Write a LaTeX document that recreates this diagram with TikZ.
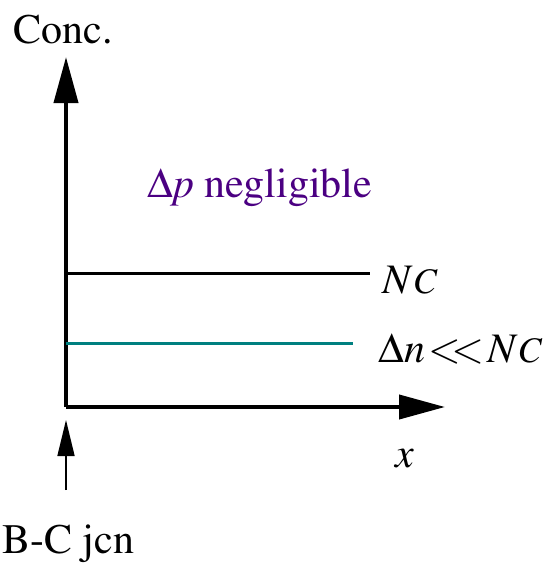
\documentclass[tikz,border=0pt]{standalone}
\usepackage[T1]{fontenc}
\usepackage{mathptmx}
\usepackage{xcolor}
\usetikzlibrary{arrows.meta, positioning, calc}
\definecolor{lbltext}{HTML}{4B0082}
\definecolor{exline}{HTML}{008080}

\begin{document}
\begin{tikzpicture}[
    x=0.5pt, y=-0.5pt,
    lbl/.style={inner sep=0pt, anchor=base west, font=\fontsize{21}{25}\selectfont},
    axis/.style={line width=2pt, -{Triangle[length=23pt, width=12pt]}},
    level/.style={line width=1.5pt},
    jarr/.style={line width=0.8pt, -{Triangle[length=18pt, width=8.5pt]}}
]
\useasboundingbox (0,0) rectangle (548,563);
\coordinate (O) at (66,407);
\coordinate (ytip) at (66,57);
\coordinate (xtip) at (445,407);
\coordinate (ncend) at (370,273);
\coordinate (dnend) at (353,343);
\coordinate (jtail) at (66,490);
\coordinate (jtip) at (66,420);

\node[lbl] (conc) at (13,43) {Conc.};
\node[lbl, text=lbltext] (dp) at (147,197) {$\Delta$\textit{p} negligible};
\node[lbl] (nc) at (382,293) {\textit{N}{\fontsize{18}{20}\selectfont\textit{C}}};
\node[lbl] (dn) at (378,362) {$\Delta$\textit{n}\kern1.5pt$<\!\!<$\kern1.5pt\textit{N}{\fontsize{18}{20}\selectfont\textit{C}}};
\node[lbl] (xlbl) at (395,467) {\textit{x}};
\node[lbl] (jcn) at (2,553) {B-C jcn};

\draw[axis] (O) -- (ytip);
\draw[axis] (O) -- (xtip);
\draw[level] (66,273) -- (ncend);
\draw[level, exline] (66,343) -- (dnend);
\draw[jarr] (jtail) -- (jtip);
\end{tikzpicture}
\end{document}
